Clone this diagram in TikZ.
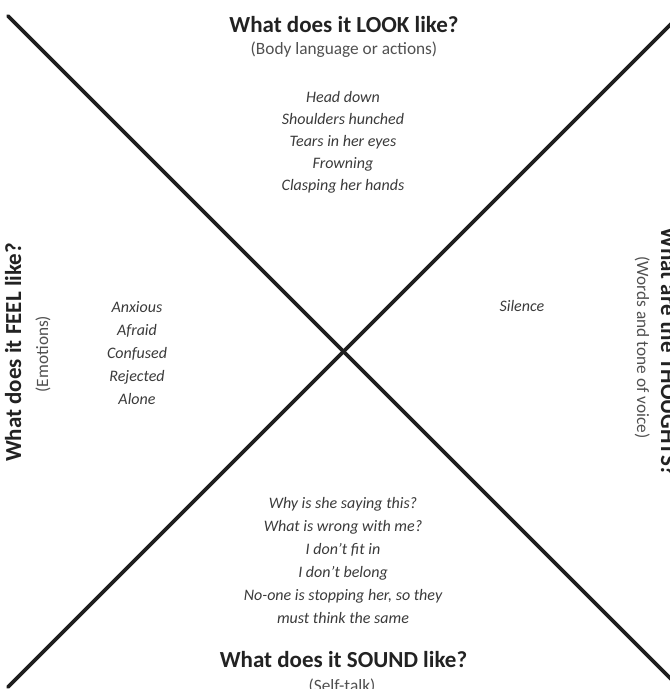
\documentclass[tikz,border=0pt]{standalone}
\usepackage{fontspec}
\setmainfont{Carlito}
\definecolor{linec}{HTML}{1E1E1E}
\definecolor{titlec}{HTML}{222222}
\definecolor{itemc}{HTML}{3A3A3A}
\definecolor{subc}{HTML}{505050}
\begin{document}
\begin{tikzpicture}[x=1pt,y=-1pt,
  xline/.style={line width=3.8pt, draw=linec, line cap=round},
  titletext/.style={font=\bfseries\fontsize{23}{26}\selectfont, text=titlec, inner sep=0pt, anchor=base},
  subtext/.style={font=\fontsize{17.3}{20}\selectfont, text=subc, inner sep=0pt, anchor=base},
  itemtext/.style={font=\itshape\fontsize{16}{22}\selectfont, text=itemc, align=center, inner sep=0pt}]
\useasboundingbox (0,0) rectangle (670,689);
\clip (0,0) rectangle (670,689);
% diagonals
\coordinate (tl) at (8,16);
\coordinate (br) at (700,708);
\coordinate (bl) at (8,687);
\coordinate (tr) at (700,-5);
\draw[xline] (tl) -- (br);
\draw[xline] (bl) -- (tr);
% top
\node[titletext] (looktitle) at (344,32) {What does it LOOK like?};
\node[subtext] (looksub) at (344,54) {(Body language or actions)};
\node[itemtext] (looklist) at (343,142.5) {Head down\\Shoulders hunched\\Tears in her eyes\\Frowning\\Clasping her hands};
% left
\node[titletext, rotate=90] (feeltitle) at (21,352.5) {What does it FEEL like?};
\node[subtext, rotate=90] (feelsub) at (48,354) {(Emotions)};
\node[itemtext, font=\itshape\fontsize{16}{23}\selectfont] (feellist) at (137,353) {Anxious\\Afraid\\Confused\\Rejected\\Alone};
% right
\node[titletext, rotate=-90] (thinktitle) at (661,352) {What are the THOUGHTS?};
\node[subtext, rotate=-90] (thinksub) at (637,347.5) {(Words and tone of voice)};
\node[itemtext] (thinklist) at (522,306) {Silence};
% bottom
\node[itemtext, font=\itshape\fontsize{16}{23}\selectfont] (soundlist) at (343,560) {Why is she saying this?\\What is wrong with me?\\I don’t fit in\\I don’t belong\\No-one is stopping her, so they\\must think the same};
\node[titletext] (soundtitle) at (343.5,667) {What does it SOUND like?};
\node[subtext] (soundsub) at (342,691) {(Self-talk)};
\end{tikzpicture}
\end{document}
